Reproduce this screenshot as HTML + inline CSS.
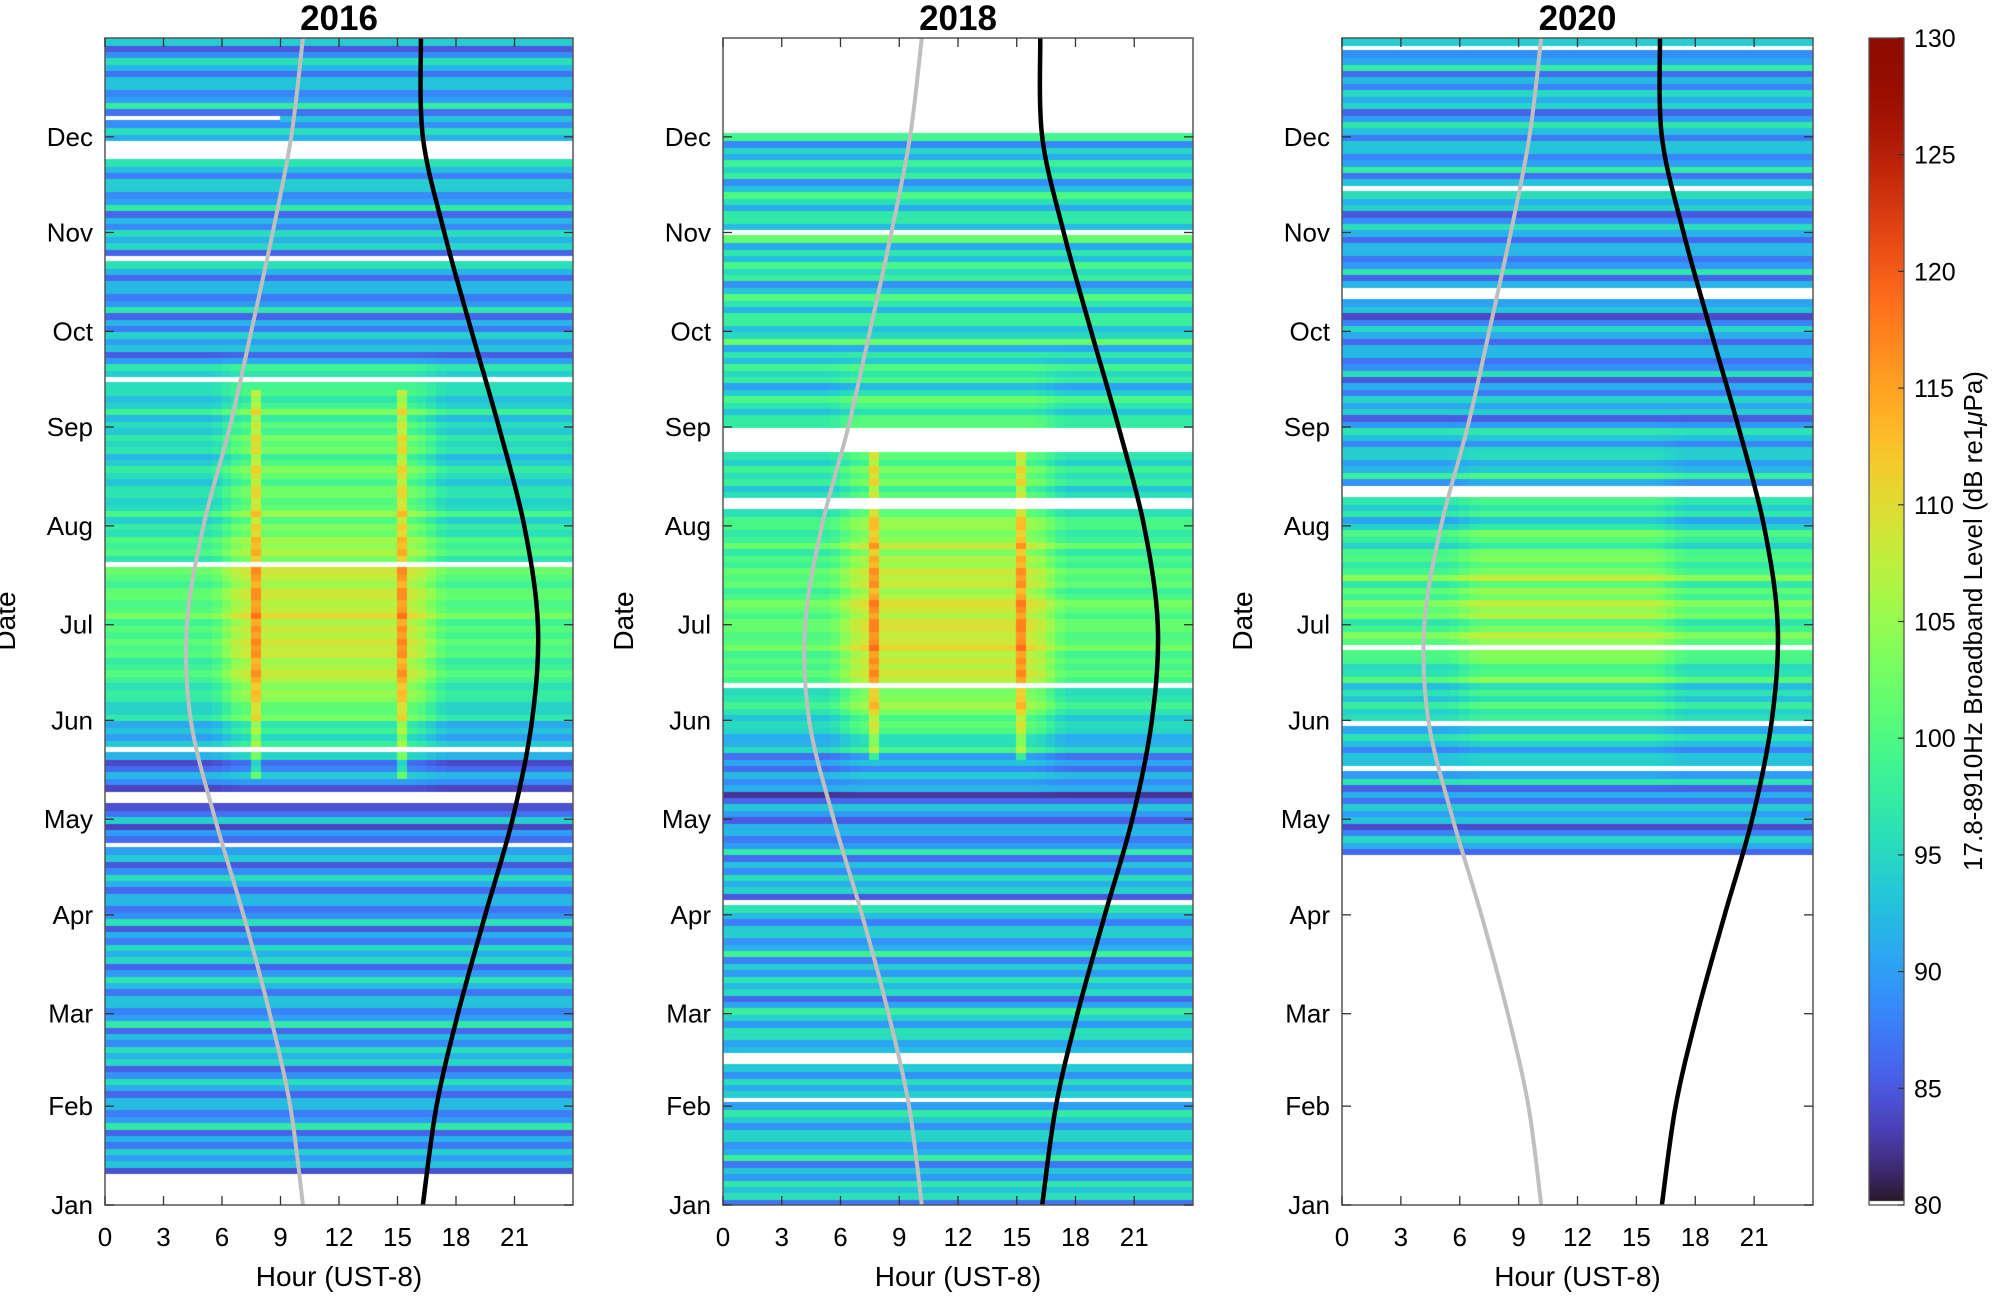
<!DOCTYPE html>
<html><head><meta charset="utf-8">
<style>
html,body{margin:0;padding:0;background:#fff;}
#wrap{position:relative;width:2000px;height:1297px;overflow:hidden;font-family:"Liberation Sans",Arial,sans-serif;}
canvas{position:absolute;}
svg{position:absolute;left:0;top:0;}
</style></head>
<body>
<div id="wrap">
<canvas id="c0" width="468" height="1167" style="left:105px;top:38px;width:468px;height:1167px"></canvas>
<canvas id="c1" width="470" height="1167" style="left:723px;top:38px;width:470px;height:1167px"></canvas>
<canvas id="c2" width="471" height="1167" style="left:1342px;top:38px;width:471px;height:1167px"></canvas>
<canvas id="cb" width="35" height="1167" style="left:1869px;top:38px;width:35px;height:1167px"></canvas>
<svg id="ov" width="2000" height="1297"></svg>
</div>
<script>
// ---- data ----
const years = ["2016","2018","2020"];
const monthLabels = ["Jan","Feb","Mar","Apr","May","Jun","Jul","Aug","Sep","Oct","Nov","Dec"];
const monthDays = [0,31,60,91,121,152,182,213,244,274,305,335];
const hourTicks = [0,3,6,9,12,15,18,21];
const cbTicks = [80,85,90,95,100,105,110,115,120,125,130];
// sunrise/sunset hours at month starts (+ Dec 31)
const curveDays = [0,31,60,91,121,152,182,213,244,274,305,335,366];
const sunrise = [10.15,9.5,8.45,7.1,5.65,4.4,4.2,5.05,6.4,7.5,8.6,9.55,10.15];
const sunset = [16.3,17.0,18.1,19.5,20.9,21.9,22.2,21.5,20.2,18.8,17.4,16.3,16.2];
// mean level (dB) per ~10-day bin, Jan -> Dec
const level2016 = [91,90,91,90,92,91,91,92,90,90,91,89,87,88,92,96,99,100,101,100,98,96,95,95,95,94,90,91,90,92,91,92,91,92,91,91];
const level2018 = [93,92,93,91,93,94,92,93,92,91,92,90,88,89,93,97,100,101,101,100,99,98,96,96,96,95,96,96,95,96,95,95,94,92,92,92];
const level2020 = [90,90,90,90,90,90,90,90,90,90,90,90,90,91,92,95,97,100,101,100,97,94,93,92,91,90,90,90,91,90,91,92,91,92,91,92];
// midday (vessel) activity boost per bin
const activity2016 = [0,0,0,0,0,0,0,0,0,0,0,0,0,2,5,7,8,8,7,7,6,6,6,6,5,3,0,0,0,0,0,0,0,0,0,0];
const activity2018 = [0,0,0,0,0,0,0,0,0,0,0,0,0,2,5,7,8,8,7,7,6,5,5,4,3,2,0,0,0,0,0,0,0,0,0,0];
const activity2020 = [0,0,0,0,0,0,0,0,0,0,0,0,0,1,2,3,4,4,4,4,3,3,2,1,0,0,0,0,0,0,0,0,0,0,0,0];
// row-to-row banding offsets (dB), cycled over 2-day rows
const rowBand = [2,-4,1,5,-2,-6,3,0,4,-3,1,-5,6,-1,-3,2];
const lineHours = [7.75,15.25];
const lineAmp = [8,8,0];
const lineDays = [[135,255],[140,240],[0,0]];
// data gaps [startDay,endDay,startHour,endHour]
const gaps2016 = [[0,10,0,24],[328,333.5,0,24],[341,343,0,9],[296,298,0,24],[258,260.5,0,24],[268,269,0,24],[200,202.5,0,24],[164,165,0,24],[143,144,0,24],[127,130,0,24],[124,125,0,16],[113,114.5,0,24]];
const gaps2018 = [[337,366,0,24],[236,244,0,24],[219,221.5,0,24],[162,164,0,24],[94,96,0,24],[45,47.5,0,24],[33,35,0,24],[305,306,0,24],[280,281,0,24],[120,121,0,24],[70,71,0,24],[18,19,0,24]];
const gaps2020 = [[0,111,0,24],[136,138,0,24],[150,152,0,24],[175,176,0,24],[223,226,0,24],[250,251,0,24],[262,263,0,24],[285,288,0,24],[319,321,0,24],[340,341,0,24],[362,364,0,24]];

const levels=[level2016,level2018,level2020];
const acts=[activity2016,activity2018,activity2020];
const gapsAll=[gaps2016,gaps2018,gaps2020];
const panels=[{x:105,w:468},{x:723,w:470},{x:1342,w:471}];
const TOP=38,BOT=1205,H=BOT-TOP,DAYS=366,VMIN=80,VMAX=130;
function yOf(d){return BOT-d/DAYS*H;}
function turbo(x){x=Math.max(0,Math.min(1,x));
 const r=0.13572138+x*(4.61539260+x*(-42.66032258+x*(132.13108234+x*(-152.94239396+x*59.28637943))));
 const g=0.09140261+x*(2.19418839+x*(4.84296658+x*(-14.18503333+x*(4.27729857+x*2.82956604))));
 const b=0.10667330+x*(12.64194608+x*(-60.58204836+x*(110.36276771+x*(-89.90310912+x*27.34824973))));
 const c=v=>Math.round(255*Math.max(0,Math.min(1,v)));return `rgb(${c(r)},${c(g)},${c(b)})`;}
function interp(arr,d){const bw=DAYS/arr.length;const p=d/bw-0.5;const i=Math.max(0,Math.min(arr.length-1,Math.floor(p)));const j=Math.min(arr.length-1,i+1);const t=Math.max(0,Math.min(1,p-i));return arr[i]*(1-t)+arr[j]*t;}
function inGap(g,d,h){for(const q of g){if(d>=q[0]&&d<q[1]&&h>=q[2]&&h<q[3])return true;}return false;}

// heatmaps
for(let p=0;p<3;p++){
 const cv=document.getElementById('c'+p),ctx=cv.getContext('2d');const W=panels[p].w;
 const dStep=2,hStep=0.5;
 for(let d=0,ri=0;d<DAYS;d+=dStep,ri++){
  const band=rowBand[(ri+p*5)%rowBand.length];
  for(let h=0;h<24;h+=hStep){
   const dc=d+dStep/2,hc=h+hStep/2;
   if(inGap(gapsAll[p],dc,hc))continue;
   let v=interp(levels[p],dc);
   const a=interp(acts[p],dc);
   v+=band*(1-a/12);
   if(hc>5.5&&hc<17.5)v+=a*Math.min(1,Math.min(hc-5.5,17.5-hc)/1.5);
   if(dc>=lineDays[p][0]&&dc<=lineDays[p][1]){for(const lh of lineHours){if(Math.abs(hc-lh)<0.3)v+=lineAmp[p];}}
   ctx.fillStyle=turbo((v-VMIN)/(VMAX-VMIN));
   const y0=(DAYS-d-dStep)/DAYS*H,y1=(DAYS-d)/DAYS*H;
   const x0=h/24*W,x1=(h+hStep)/24*W;
   ctx.fillRect(Math.floor(x0),Math.floor(y0),Math.ceil(x1-x0)+1,Math.ceil(y1-y0)+1);
  }
 }
}
// colorbar
{const ctx=document.getElementById('cb').getContext('2d');
 for(let y=0;y<H;y++){const v=VMAX-(y/H)*(VMAX-VMIN);ctx.fillStyle=(y>H-5)?'#fff':turbo((v-VMIN)/(VMAX-VMIN));ctx.fillRect(0,y,35,1);}}

// overlay
const NS='http://www.w3.org/2000/svg',svg=document.getElementById('ov');
function el(t,a,txt){const e=document.createElementNS(NS,t);for(const k in a)e.setAttribute(k,a[k]);if(txt!==undefined)e.textContent=txt;svg.appendChild(e);return e;}
function catmull(pts){let s=`M${pts[0][0]},${pts[0][1]}`;for(let i=0;i<pts.length-1;i++){const p0=pts[Math.max(0,i-1)],p1=pts[i],p2=pts[i+1],p3=pts[Math.min(pts.length-1,i+2)];
 s+=` C${p1[0]+(p2[0]-p0[0])/6},${p1[1]+(p2[1]-p0[1])/6} ${p2[0]-(p3[0]-p1[0])/6},${p2[1]-(p3[1]-p1[1])/6} ${p2[0]},${p2[1]}`;}return s;}
for(let p=0;p<3;p++){
 const X=panels[p].x,W=panels[p].w;const xOf=h=>X+h/24*W;
 const sr=el('path',{d:catmull(curveDays.map((d,i)=>[xOf(sunrise[i]),yOf(d)])),fill:'none',stroke:'#bfbfbf','stroke-width':4});
 
 const ss=el('path',{d:catmull(curveDays.map((d,i)=>[xOf(sunset[i]),yOf(d)])),fill:'none',stroke:'#000','stroke-width':4.5});
 
 const box=el('rect',{x:X,y:TOP,width:W,height:H,fill:'none',stroke:'#555','stroke-width':1.5});
 
 for(const h of hourTicks){const x=xOf(h);
  el('line',{x1:x,y1:BOT,x2:x,y2:BOT-9,stroke:'#333','stroke-width':1.3});
  el('line',{x1:x,y1:TOP,x2:x,y2:TOP+9,stroke:'#333','stroke-width':1.3});
  const t=el('text',{x:x,y:1246,'font-size':26,'text-anchor':'middle',fill:'#000'},String(h));
  }
 monthDays.forEach((d,i)=>{const y=yOf(d);
  el('line',{x1:X,y1:y,x2:X+9,y2:y,stroke:'#333','stroke-width':1.3});
  el('line',{x1:X+W,y1:y,x2:X+W-9,y2:y,stroke:'#333','stroke-width':1.3});
  const t=el('text',{x:X-12,y:y+9,'font-size':26,'text-anchor':'end',fill:'#000'},monthLabels[i]);
  });
 const ti=el('text',{x:X+W/2,y:30,'font-size':35,'font-weight':'bold','text-anchor':'middle',fill:'#000'},years[p]);
 
 const xl=el('text',{x:X+W/2,y:1286,'font-size':28,'text-anchor':'middle',fill:'#000'},'Hour (UST-8)');
 
 const yx=X-90,yy=621;
 const yl=el('text',{x:yx,y:yy,'font-size':28,'text-anchor':'middle',fill:'#000',transform:`rotate(-90 ${yx} ${yy})`},'Date');
 
}
// colorbar axis
{const cbx=1869,cbw=35;
 const f=el('rect',{x:cbx,y:TOP,width:cbw,height:H,fill:'none',stroke:'#555','stroke-width':1.3});
 
 for(const v of cbTicks){const y=BOT-(v-VMIN)/(VMAX-VMIN)*H;
  el('line',{x1:cbx+cbw,y1:y,x2:cbx+cbw-6,y2:y,stroke:'#333','stroke-width':1.2});
  const t=el('text',{x:cbx+cbw+10,y:y+9,'font-size':25,fill:'#000'},String(v));
  }
 const tx=1982,ty=621;
 const ct=el('text',{x:tx,y:ty,'font-size':26,'text-anchor':'middle',fill:'#000',transform:`rotate(-90 ${tx} ${ty})`});
 
 ct.innerHTML='17.8-8910Hz Broadband Level (dB re1<tspan font-style="italic">μ</tspan>Pa)';
}
</script>
</body></html>
